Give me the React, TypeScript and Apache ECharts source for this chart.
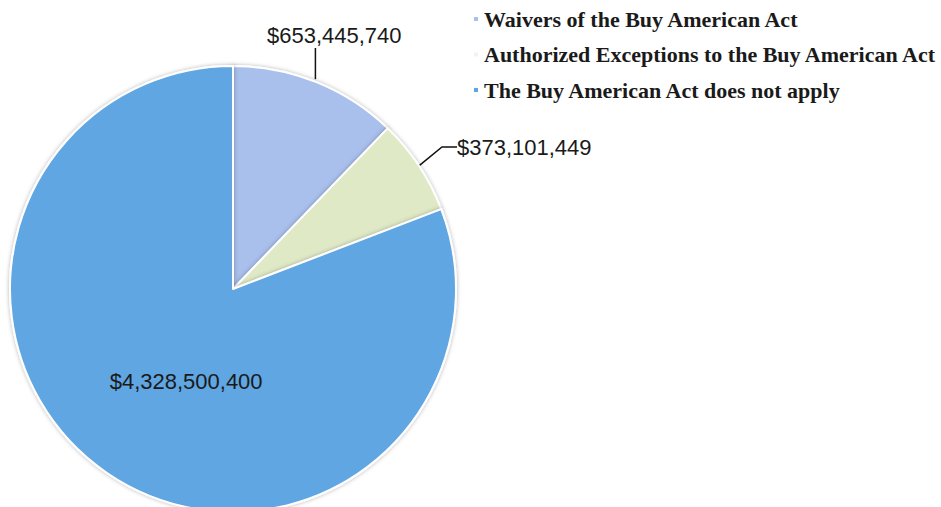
import React, { useEffect, useRef } from "react";
import * as echarts from "echarts";

const categories = [
  "Waivers of the Buy American Act",
  "Authorized Exceptions to the Buy American Act",
  "The Buy American Act does not apply",
];
const values = [653445740, 373101449, 4328500400];
const colors = ["#a9bfec", "#dfe9c6", "#5ea6e2"];
const legendColors = ["#a9bfec", "#f1f4ea", "#5ea6e2"];

const fmt = (v: number) => "$" + v.toLocaleString("en-US");

export default function App() {
  const ref = useRef<HTMLDivElement>(null);
  useEffect(() => {
    document.body.style.margin = "0";
    const chart = echarts.init(ref.current!, null, { renderer: "svg" });
    const cx = 233;
    const cy = 289;
    const r = 223;
    const total = values.reduce((a, b) => a + b, 0);
    const mid0 = (values[0] / total) * Math.PI; // mid angle of first slice (clockwise from top)
    const ex = cx + r * Math.sin(mid0);
    const ey = cy - r * Math.cos(mid0);
    chart.setOption({
      animation: false,
      backgroundColor: "#ffffff",
      legend: {
        orient: "vertical",
        left: 467,
        top: 3,
        itemWidth: 6,
        itemHeight: 6,
        itemGap: 13.5,
        icon: "rect",
        textStyle: {
          fontFamily: "Liberation Serif",
          fontWeight: "bold",
          fontSize: 22,
          color: "#1a1a1a",
        },
        data: categories.map((c, i) => ({
          name: c,
          itemStyle: { color: legendColors[i] },
        })),
      },
      graphic: [
        {
          type: "line",
          shape: { x1: ex - 1, y1: ey - 3, x2: ex - 1, y2: 48 },
          style: { stroke: "#111", lineWidth: 1.5 },
          z: 10,
        },
      ],
      series: [
        {
          type: "pie",
          center: [cx, cy],
          radius: r,
          startAngle: 90,
          clockwise: true,
          itemStyle: {
            borderColor: "#ffffff",
            borderWidth: 2,
            shadowColor: "rgba(0,0,0,0.3)",
            shadowBlur: 4,
          },
          label: {
            formatter: (p: any) => fmt(p.value),
            fontFamily: "Liberation Sans",
            fontSize: 22,
            color: "#1a1a1a",
          },
          labelLine: {
            show: true,
            length: 20,
            length2: 15,
            lineStyle: { color: "#111", width: 1.5 },
          },
          labelLayout: (params: any) => {
            if (params.dataIndex === 0) {
              return { x: 267, y: 35, align: "left", verticalAlign: "middle" };
            }
            if (params.dataIndex === 1) {
              return { x: 457, y: 147, align: "left", verticalAlign: "middle" };
            }
            return {};
          },
          data: categories.map((c, i) => ({
            name: c,
            value: values[i],
            itemStyle: { color: colors[i] },
            ...(i === 0 ? { labelLine: { show: false } } : {}),
            ...(i === 2
              ? {
                  label: { position: "inside", offset: [18, -2] },
                  labelLine: { show: false },
                }
              : {}),
          })),
        },
      ],
    });
    return () => chart.dispose();
  }, []);
  return <div ref={ref} style={{ width: 941, height: 507 }} />;
}
